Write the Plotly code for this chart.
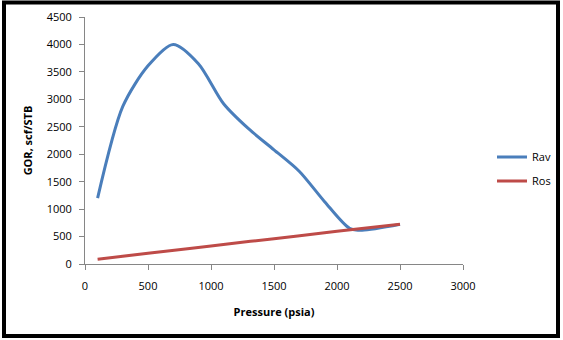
import plotly.graph_objects as go

# values
rav_p = [100, 300, 500, 700, 900, 1100, 1300, 1500, 1700, 1900, 2100, 2200, 2500]
rav_gor = [1200, 2870, 3610, 4000, 3650, 2920, 2460, 2080, 1690, 1140, 650, 615, 722]
ros_p = [100, 500, 1000, 1500, 2000, 2500]
ros_gor = [88, 195, 330, 462, 595, 725]

W, H = 563, 340
L, R, T, B = 85, 100, 17, 76
pw, ph = W - L - R, H - T - B

fig = go.Figure()
fig.add_trace(go.Scatter(x=rav_p, y=rav_gor, name='Rav', mode='lines', legendgroup='rav',
                         line=dict(color='#4A7EBB', width=3, shape='spline', smoothing=0.8)))
fig.add_trace(go.Scatter(x=ros_p, y=ros_gor, name='Ros', mode='lines', legendgroup='ros',
                         line=dict(color='#BE4B48', width=3, shape='spline')))

axis_common = dict(showgrid=False, zeroline=False, showline=True, linecolor='#868686',
                   linewidth=1, ticks='outside', ticklen=5, tickcolor='#868686',
                   automargin=False,
                   tickfont=dict(family='Open Sans', size=11, color='black'))

fig.update_layout(
    width=W, height=H,
    margin=dict(l=L, r=R, t=T, b=B, autoexpand=False),
    paper_bgcolor='white', plot_bgcolor='white',
    font=dict(family='Open Sans', size=11, color='black'),
    xaxis=dict(range=[0, 3000], dtick=500, ticklabelstandoff=7, **axis_common,
               title=dict(text='<b>Pressure (psia)</b>', font=dict(size=11), standoff=16)),
    yaxis=dict(range=[0, 4500], dtick=500, ticklabelstandoff=5, **axis_common,
               title=dict(text='<b>GOR, scf/STB</b>', font=dict(size=11), standoff=11)),
    legend=dict(x=(492 - L) / pw, y=(T + ph - 169) / ph, xanchor='left', yanchor='middle',
                font=dict(size=11), bgcolor='rgba(0,0,0,0)',
                traceorder='grouped', tracegroupgap=5, itemwidth=30),
    showlegend=True,
)

# thick black frame around the whole chart
fig.add_shape(type='rect', xref='paper', yref='paper',
              x0=(4 - L) / pw, x1=(558 - L) / pw,
              y0=(T + ph - 336) / ph, y1=(T + ph - 2.5) / ph,
              line=dict(color='black', width=4), layer='above')

fig.write_html("out.html", config={'displayModeBar': False},
               post_script="document.body.style.margin='0';")
